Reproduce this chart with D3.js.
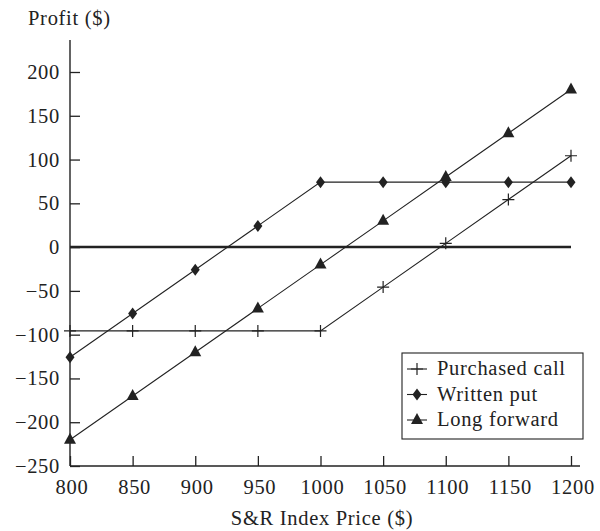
<!DOCTYPE html>
<html><head><meta charset="utf-8">
<script src="https://cdn.jsdelivr.net/npm/d3@7"></script>
<style>body{margin:0;background:#fff}svg{display:block}text{font-family:"Liberation Serif","DejaVu Serif",serif;fill:#222;letter-spacing:0.7px}</style>
</head><body>
<svg id="c" width="600" height="531"></svg>
<script>
const prices = [800, 850, 900, 950, 1000, 1050, 1100, 1150, 1200];
const purchasedCall = [-95.68, -95.68, -95.68, -95.68, -95.68, -45.68, 4.32, 54.32, 104.32];
const writtenPut = [-125.8, -75.8, -25.8, 24.2, 74.2, 74.2, 74.2, 74.2, 74.2];
const longForward = [-220, -170, -120, -70, -20, 30, 80, 130, 180];
const xTicks = [800, 850, 900, 950, 1000, 1050, 1100, 1150, 1200];
const yTicks = [-250, -200, -150, -100, -50, 0, 50, 100, 150, 200];
const seriesNames = ["Purchased call", "Written put", "Long forward"];

const svg = d3.select("#c");
const x = d3.scaleLinear().domain([800, 1200]).range([70, 571]);
const y = d3.scaleLinear().domain([-250, 200]).range([466, 72]);
const col = "#222";
const fs = 20.5;

// axes
svg.append("line").attr("x1", x(800)).attr("x2", x(800)).attr("y1", 40).attr("y2", y(-250)).attr("stroke", col).attr("stroke-width", 1.4);
svg.append("line").attr("x1", x(800)).attr("x2", x(1200)+9).attr("y1", y(-250)).attr("y2", y(-250)).attr("stroke", col).attr("stroke-width", 1.4);
const xa = svg.append("g").attr("transform", `translate(0,${y(-250)})`)
  .call(d3.axisTop(x).tickValues(xTicks).tickSize(10).tickFormat(""));
xa.select(".domain").remove();
xa.selectAll("line").attr("stroke", col).attr("stroke-width", 1.3);
svg.append("g").selectAll("text").data(xTicks).join("text")
  .attr("x", d => x(d) + 2).attr("y", 494).attr("text-anchor", "middle").attr("font-size", fs).text(d => d);
const ya = svg.append("g").attr("transform", `translate(${x(800)},0)`)
  .call(d3.axisRight(y).tickValues(yTicks).tickSize(10).tickFormat(""));
ya.select(".domain").remove();
ya.selectAll("line").attr("stroke", col).attr("stroke-width", 1.3);
svg.append("g").selectAll("text").data(yTicks).join("text")
  .attr("x", 60).attr("y", d => y(d) + 7).attr("text-anchor", "end").attr("font-size", fs)
  .text(d => d < 0 ? "\u2212" + Math.abs(d) : d);

// zero line
svg.append("line").attr("x1", x(800)).attr("x2", x(1200)).attr("y1", y(0)).attr("y2", y(0)).attr("stroke", col).attr("stroke-width", 2.5);

svg.append("text").attr("x", 28).attr("y", 25).attr("font-size", fs).text("Profit ($)");
svg.append("text").attr("x", 322).attr("y", 525).attr("text-anchor", "middle").attr("font-size", fs).text("S&R Index Price ($)");

const line = d3.line().x(d => x(d[0])).y(d => y(d[1]));
const all = [purchasedCall, writtenPut, longForward];
all.forEach(vals => {
  svg.append("path").attr("d", line(prices.map((p, i) => [p, vals[i]])))
    .attr("fill", "none").attr("stroke", col).attr("stroke-width", 1.1);
});
function marker(g, type, cx, cy) {
  if (type === 0) {
    g.append("path").attr("d", `M${cx-6},${cy}H${cx+6}M${cx},${cy-6}V${cy+6}`).attr("stroke", col).attr("stroke-width", 1.2);
  } else if (type === 1) {
    g.append("path").attr("d", `M${cx},${cy-6}L${cx+4.5},${cy}L${cx},${cy+6}L${cx-4.5},${cy}Z`).attr("fill", col);
  } else {
    g.append("path").attr("d", `M${cx},${cy-7}L${cx+6},${cy+4}L${cx-6},${cy+4}Z`).attr("fill", col);
  }
}
const mg = svg.append("g");
all.forEach((vals, k) => prices.forEach((p, i) => marker(mg, k, x(p), y(vals[i]))));

// legend
const lg = svg.append("g");
lg.append("rect").attr("x", 402).attr("y", 353).attr("width", 181).attr("height", 86).attr("fill", "#fff").attr("stroke", col).attr("stroke-width", 1.1);
seriesNames.forEach((n, k) => {
  const cy = 369 + k * 25.5;
  lg.append("line").attr("x1", 407).attr("x2", 427).attr("y1", cy).attr("y2", cy).attr("stroke", col).attr("stroke-width", 1.1);
  marker(lg, k, 417, cy);
  lg.append("text").attr("x", 437).attr("y", cy + 6).attr("font-size", fs).text(n);
});
</script>
</body></html>
